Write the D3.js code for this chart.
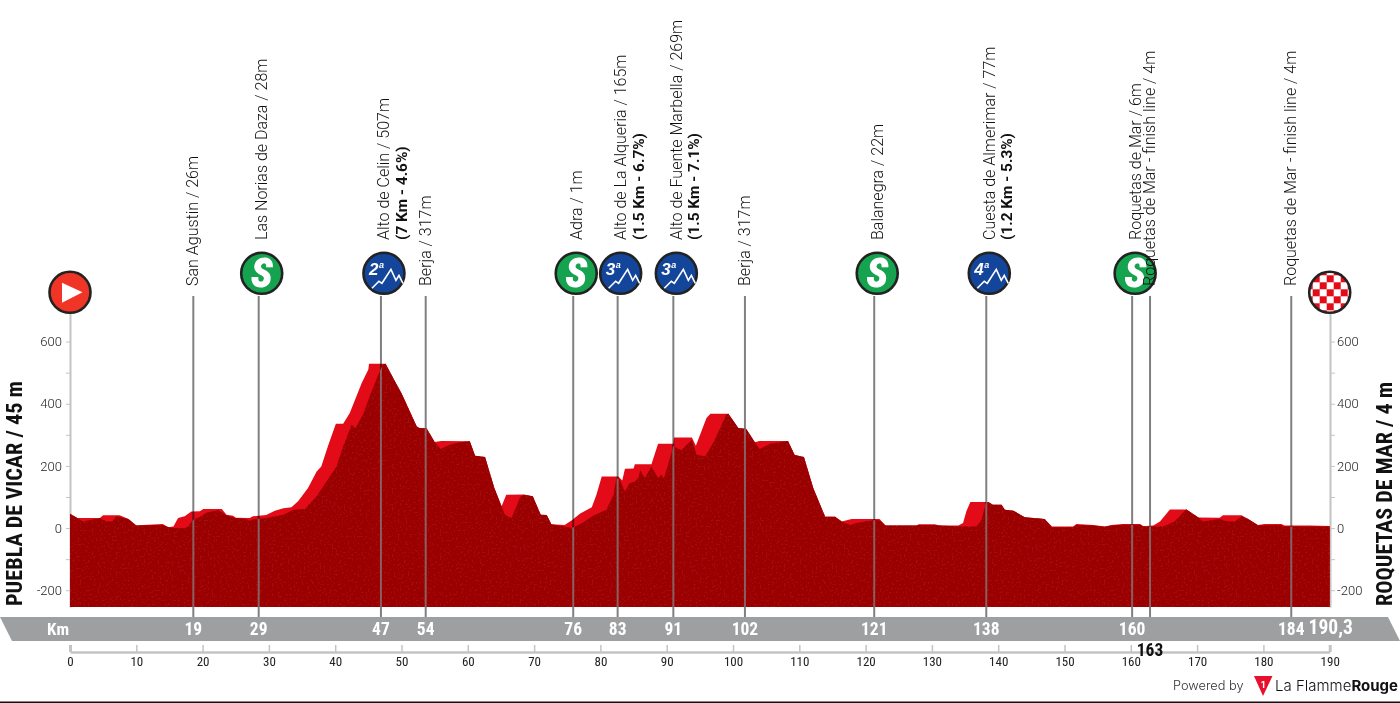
<!DOCTYPE html>
<html><head><meta charset="utf-8">
<script src="https://cdn.jsdelivr.net/npm/d3@7/dist/d3.min.js"></script>
<style>
html,body{margin:0;padding:0;background:#fff;overflow:hidden}
svg{display:block}
.narrow{font-family:"Liberation Sans Narrow","Roboto Condensed","Liberation Sans",sans-serif}
</style></head><body><svg id="c" width="1400" height="703"></svg>
<script>
// ---- data ----
const roadKm = [0,1.1,4.5,5,7.5,8.8,10,11,14,14.8,15.6,16.3,17.3,18.3,19.6,20.1,22.9,23.6,24.6,25,27.1,27.6,29.6,30.9,32.2,33.4,34.4,35.9,37.2,37.9,38.9,40.1,41.2,42.2,44,45,45.1,47.6,49,50,52.3,52.7,53.8,55,56,60.3,61.1,62.6,64,65.1,65.8,68.4,69.8,71,71.9,72.6,74.6,75.7,76.9,78.7,79.4,80.2,82.7,83.3,83.7,85,85.2,87.7,88.7,91,91.1,93.8,94.4,96,96.6,99.3,100.8,102,103.3,104,108.3,109.3,110.7,112.1,113.9,115.4,116.4,117.9,122.1,123,127.7,128,130.4,131.2,134,134.7,135.2,135.8,138.5,139.2,140.5,141,142.3,144,147,148.1,151.3,151.8,154.3,156.1,157.1,158.8,161.4,161.9,163.4,164.4,165.9,168.4,170.2,173.4,173.9,176.7,177.7,179.2,180.2,182.7,183.2,187,190];
const roadElev = [46,32,32,41,41,29,8,10,13,3,5,32,38,53,54,61,61,43,40,33,32,38,42,56,64,67,86,129,182,198,263,336,336,370,467,510,529,529,472,434,327,322,320,277,280,279,233,229,129,70,107,108,102,43,42,12,10,25,46,67,107,166,166,153,191,192,205,205,271,271,291,291,265,354,368,368,322,319,276,280,280,235,229,129,36,36,21,29,29,8,8,12,12,8,8,16,54,84,84,75,75,59,56,35,29,5,5,13,10,5,10,13,13,6,8,21,60,60,34,33,41,41,29,10,13,13,8,8,7];
const surfaceKm = [0,1.1,2,4.5,5.5,6.3,7,8.8,10,14,15,15.8,17.3,17.8,18.6,19.8,20.6,22.4,23.6,24.9,26.6,26.9,28.1,29.6,32.2,33.7,35.4,37.2,40.2,41.2,42.5,43,44.2,45.2,46.7,47.2,47.6,49,50,52.3,52.7,53.8,55,55.9,57.3,58.8,60.3,61.1,62.6,64,65.6,66.6,67.9,68.4,69.8,71,71.9,72.6,75.7,77.4,78.9,80.9,82,82.4,82.9,83.7,84.4,85.2,85.7,86,86.7,87.7,88.7,89.2,89.6,91,92.2,93.8,94.5,95.8,97,99,99.3,100.8,102,103.3,104,105.6,108.3,109.3,110.7,112.1,113.9,115.4,116.4,117.6,118.6,121.1,122.1,123,127.7,128,130.4,131.2,134,136.7,137.5,138,138.2,138.5,139.2,140.5,141,142.3,144,147,148.1,151.3,151.8,154.3,156.1,157.1,158.8,161.4,161.9,164.9,166.6,168.3,168.4,170.2,170.9,173.4,174.7,175.7,176.7,177.7,179.2,182.5,183.2,190];
const surfaceElev = [46,32,21,32,21,21,38,29,8,10,2,0,-1,5,27,38,50,57,41,32,29,24,29,32,43,59,61,102,198,263,333,320,365,424,504,526,529,472,434,327,322,320,277,254,268,276,279,233,229,129,43,32,100,107,102,43,42,12,0,18,40,59,107,161,156,118,145,150,161,186,161,198,161,172,160,263,250,284,236,231,274,365,368,322,319,276,254,271,280,235,229,129,36,36,21,10,16,25,25,8,8,10,10,8,5,5,27,70,84,84,75,75,59,56,35,29,3,3,10,8,4,8,11,11,5,5,21,59,60,34,21,29,21,21,38,29,8,10,5,5];
const placeKm = [18.6,28.46,46.9,53.65,75.9,82.6,91,101.8,121.3,138.2,160.2,162.9,184.2];
const placeTick = ["19","29","47","54","76","83","91","102","121","138","160","163","184"];
const placeName = ["San Agustin / 26m","Las Norias de Daza / 28m","Alto de Celin / 507m","Berja / 317m","Adra / 1m","Alto de La Alqueria / 165m","Alto de Fuente Marbella / 269m","Berja / 317m","Balanegra / 22m","Cuesta de Almerimar / 77m","Roquetas de Mar / 6m","Roquetas de Mar - finish line / 4m","Roquetas de Mar - finish line / 4m"];
const placeNote = ["","","(7 Km - 4.6%)","","","(1.5 Km - 6.7%)","(1.5 Km - 7.1%)","","","(1.2 Km - 5.3%)","","",""];
const placeBadge = ["","S","2","","S","3","3","","S","4","S","",""];
const elevTicks = [-200,-100,0,100,200,300,400,500,600];
const elevLabels = [-200,0,200,400,600];
const kmTicks = [0,10,20,30,40,50,60,70,80,90,100,110,120,130,140,150,160,170,180,190];
const startName = "PUEBLA DE VICAR / 45 m", finishName = "ROQUETAS DE MAR / 4 m", totalKm = "190,3";

// ---- scales ----
const x = d3.scaleLinear().domain([0,190.3]).range([70,1331.7]);
const y = d3.scaleLinear().domain([-254,700]).range([607,310.5]);
const svg = d3.select("#c");
const defs = svg.append("defs");

const f = defs.append("filter").attr("id","grain").attr("x",0).attr("y",0).attr("width",1).attr("height",1);
f.append("feTurbulence").attr("type","fractalNoise").attr("baseFrequency",0.5).attr("numOctaves",3).attr("seed",4).attr("result","n");
f.append("feColorMatrix").attr("in","n").attr("type","matrix")
 .attr("values","0 0 0 0 0.25  0 0 0 0 0  0 0 0 0 0  1.3 0 0 0 -0.47").attr("result","m");
f.append("feComposite").attr("in","m").attr("in2","SourceGraphic").attr("operator","in").attr("result","c");
const mg = f.append("feMerge"); mg.append("feMergeNode").attr("in","SourceGraphic"); mg.append("feMergeNode").attr("in","c");

const area = d3.area().x(d=>x(d[0])).y0(y(-254)).y1(d=>y(d[1]));
const road = d3.zip(roadKm,roadElev), surface = d3.zip(surfaceKm,surfaceElev);
defs.append("clipPath").attr("id","surfaceClip").append("path").attr("d",area(surface));

// axes
const axisStyle = (g,sz)=>{
  g.selectAll(".domain").attr("stroke","#c4c4c4").attr("stroke-width",2);
  g.selectAll(".tick line").attr("stroke","#c4c4c4").attr("stroke-width",1);
  g.selectAll("text").attr("font-family","Roboto,sans-serif").attr("font-weight",300).attr("font-size",sz).attr("fill","#222");
};
const fmtY = d => elevLabels.includes(d) ? d : "";
const aL = svg.append("g").attr("transform","translate(70,0)")
  .call(d3.axisLeft(y).tickValues(elevTicks).tickFormat(fmtY).tickSize(4).tickSizeOuter(0).tickPadding(4));
axisStyle(aL,13);
const aR = svg.append("g").attr("transform","translate(1330,0)")
  .call(d3.axisRight(y).tickValues(elevTicks).tickFormat(fmtY).tickSize(5).tickSizeOuter(0).tickPadding(2));
axisStyle(aR,13);

// station lines below the road layer
svg.append("g").selectAll("line").data(placeKm).join("line")
  .attr("x1",d=>x(d)).attr("x2",d=>x(d)).attr("y1",296).attr("y2",617)
  .attr("stroke","#808080").attr("stroke-width",2);

svg.append("path").attr("d",area(road)).attr("fill","#e30b17").style("mix-blend-mode","multiply");
svg.append("path").attr("d",area(surface)).attr("fill","#a01111").attr("filter","url(#grain)");
svg.append("g").attr("clip-path","url(#surfaceClip)").selectAll("line").data(placeKm).join("line")
  .attr("x1",d=>x(d)).attr("x2",d=>x(d)).attr("y1",296).attr("y2",617)
  .attr("stroke","#808080").attr("stroke-width",2).attr("opacity",.75);

// km band
svg.append("path").attr("d","M0,617H1388L1400,641H12Z").attr("fill","#9d9fa1");
const bandText = (t,px,size,yy,fill)=>svg.append("text").attr("class","narrow").attr("x",px).attr("y",yy)
  .attr("text-anchor","middle").attr("font-weight",700).attr("font-size",size).attr("fill",fill||"#fff").text(t);
bandText("Km",58,17,635);
placeTick.forEach((t,i)=>{ if(t!=="163") bandText(t,x(placeKm[i]),17.5,635); });
bandText(totalKm,x(190.3)-1,19.5,634);

// scale under the band
const kmAxisScale = d3.scaleLinear().domain([0,190]).range([x(0),x(190)]);
const aB = svg.append("g").attr("transform","translate(0,652)")
  .call(d3.axisBottom(kmAxisScale).tickValues(kmTicks).tickSize(-7).tickSizeOuter(0).tickPadding(5));
aB.selectAll(".domain").attr("stroke","#c4c4c4").attr("stroke-width",2.5);
aB.selectAll(".tick line").attr("stroke","#c4c4c4").attr("stroke-width",d=>(d===0||d===190)?3:1.5);
aB.selectAll("text").attr("class","narrow").attr("font-size",13).attr("fill","#222");
placeTick.forEach((t,i)=>{ if(t==="163") bandText(t,x(placeKm[i]),17.5,656,"#111"); });

// badges
const colors = {S:"#16a34f",2:"#13469b",3:"#13469b",4:"#13469b"};
const badgeGroup = svg.append("g");
placeBadge.forEach((b,i)=>{
  if(!b) return;
  const g = badgeGroup.append("g").attr("transform",`translate(${x(placeKm[i])+3},273.3)`);
  g.append("circle").attr("r",20.5).attr("fill",colors[b]).attr("stroke","#222").attr("stroke-width",2.6);
  if(b==="S"){
    g.append("text").attr("class","narrow").attr("text-anchor","middle").attr("y",14)
     .attr("font-weight",700).attr("font-style","italic").attr("font-size",40).attr("fill","#fff").attr("stroke","#fff").attr("stroke-width",1.2).text("S");
  } else {
    g.append("text").attr("x",-15).attr("y",2).attr("font-family","'Liberation Sans',sans-serif")
     .attr("font-weight",700).attr("font-style","italic").attr("font-size",17).attr("fill","#fff").text(b);
    g.append("text").attr("x",-5).attr("y",-5).attr("font-family","'Liberation Sans',sans-serif")
     .attr("font-weight",700).attr("font-style","italic").attr("font-size",9).attr("fill","#fff").text("a");
    g.append("path").attr("d","M-12,15L-5,8L-2,10L7,-4L12,7L15,2L19,10").attr("fill","none").attr("stroke","#fff").attr("stroke-width",1.6);
  }
});
// start badge
const st = svg.append("g").attr("transform",`translate(${x(0)},292.3)`);
st.append("circle").attr("r",20.5).attr("fill","#f03526").attr("stroke","#222").attr("stroke-width",2.6);
st.append("path").attr("d","M-8,-9.5L12.5,0L-8,10.5Z").attr("fill","#fff");
// finish badge
const fin = svg.append("g").attr("transform",`translate(${x(190)},292.3)`);
defs.append("pattern").attr("id","chk").attr("width",14).attr("height",14).attr("patternUnits","userSpaceOnUse").attr("x",-3).attr("y",-3)
  .call(p=>{p.append("rect").attr("width",14).attr("height",14).attr("fill","#fff");
    p.append("rect").attr("width",7).attr("height",7).attr("fill","#e30b17");
    p.append("rect").attr("x",7).attr("y",7).attr("width",7).attr("height",7).attr("fill","#e30b17");});
fin.append("circle").attr("r",20.5).attr("fill","url(#chk)").attr("stroke","#222").attr("stroke-width",2.6);

// rotated place labels
placeName.forEach((t,i)=>{
  const hasB = !!placeBadge[i], px = x(placeKm[i]);
  const base = hasB ? 240 : 286;
  const off = hasB ? 8.5 : 5;
  svg.append("text").attr("transform",`translate(${px+off},${base}) rotate(-90)`)
    .attr("font-family","Roboto,sans-serif").attr("font-weight",300).attr("font-size",16).attr("fill","#111").text(t);
  if(placeNote[i]) svg.append("text").attr("transform",`translate(${px+off+17.5},${base}) rotate(-90)`)
    .attr("font-family","Roboto,sans-serif").attr("font-weight",700).attr("font-size",15.4).attr("fill","#111").text(placeNote[i]);
});

// side titles
svg.append("text").attr("class","narrow").attr("transform","translate(22,606) rotate(-90)")
  .attr("font-weight",700).attr("font-size",22).attr("fill","#111").attr("textLength",225).attr("lengthAdjust","spacingAndGlyphs").text(startName);
svg.append("text").attr("class","narrow").attr("transform","translate(1392,606) rotate(-90)")
  .attr("font-weight",700).attr("font-size",22).attr("fill","#111").attr("textLength",224).attr("lengthAdjust","spacingAndGlyphs").text(finishName);

// credit
svg.append("text").attr("x",1173).attr("y",690).attr("font-family","Inter,sans-serif").attr("font-weight",300).attr("font-size",12.8).attr("fill","#333").text("Powered by");
svg.append("path").attr("d","M1254,676H1272.5L1263,696Z").attr("fill","#e8112d");
svg.append("text").attr("x",1263).attr("y",688).attr("text-anchor","middle").attr("font-family","Inter,sans-serif").attr("font-weight",700).attr("font-size",9).attr("fill","#fff").text("1");
const lf = svg.append("text").attr("x",1275).attr("y",691).attr("font-family","Inter,sans-serif").attr("font-size",15).attr("fill","#111");
lf.append("tspan").attr("font-weight",300).text("La Flamme");
lf.append("tspan").attr("font-weight",700).text("Rouge");
svg.append("rect").attr("x",0).attr("y",701.5).attr("width",1400).attr("height",1.5).attr("fill","#111");
</script></body></html>
